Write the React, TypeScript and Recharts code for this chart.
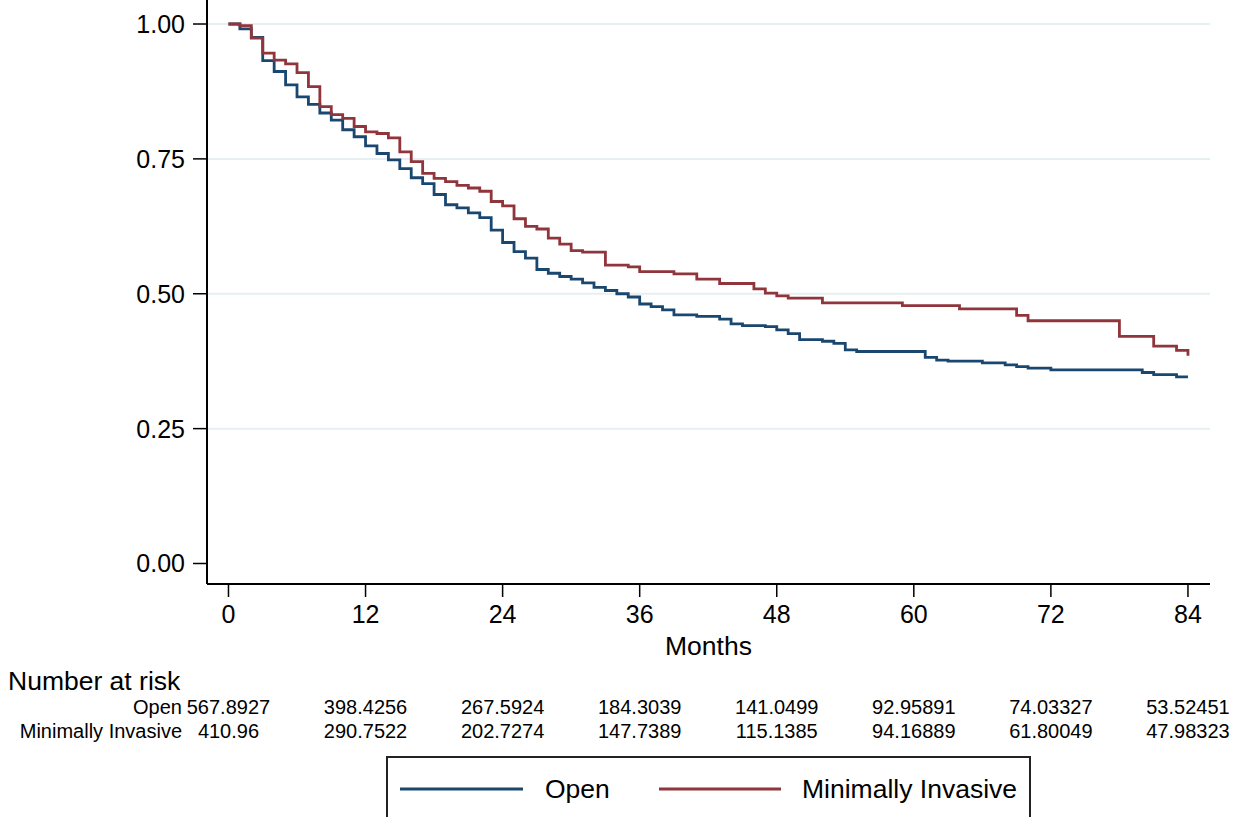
import React from 'react';
import { LineChart, Line, XAxis, YAxis, CartesianGrid } from 'recharts';

// Kaplan-Meier estimates read per month (value holds from month m to m+1)
const months = Array.from({ length: 85 }, (_, i) => i);

const openSurv = [
  1.0, 0.991, 0.975, 0.932, 0.912, 0.887, 0.865, 0.851, 0.835, 0.822,
  0.804, 0.791, 0.774, 0.76, 0.748, 0.732, 0.715, 0.704, 0.684, 0.665,
  0.659, 0.65, 0.641, 0.618, 0.595, 0.578, 0.566, 0.545, 0.538, 0.532,
  0.527, 0.52, 0.512, 0.506, 0.5, 0.494, 0.481, 0.476, 0.47, 0.461,
  0.461, 0.458, 0.458, 0.453, 0.444, 0.441, 0.441, 0.439, 0.433, 0.426,
  0.415, 0.415, 0.412, 0.408, 0.396, 0.393, 0.393, 0.393, 0.393, 0.393,
  0.393, 0.382, 0.377, 0.375, 0.375, 0.375, 0.372, 0.372, 0.368, 0.365,
  0.362, 0.362, 0.359, 0.359, 0.359, 0.359, 0.359, 0.359, 0.359, 0.359,
  0.354, 0.35, 0.35, 0.346, 0.346,
];

const miSurv = [
  1.0, 0.997, 0.974, 0.946, 0.933, 0.926, 0.91, 0.884, 0.847, 0.832,
  0.825, 0.81, 0.8, 0.797, 0.789, 0.763, 0.745, 0.723, 0.714, 0.708,
  0.701, 0.696, 0.69, 0.671, 0.663, 0.639, 0.625, 0.62, 0.603, 0.592,
  0.58, 0.577, 0.577, 0.553, 0.553, 0.55, 0.541, 0.541, 0.541, 0.537,
  0.537, 0.527, 0.527, 0.519, 0.519, 0.519, 0.509, 0.501, 0.496, 0.492,
  0.492, 0.492, 0.483, 0.483, 0.483, 0.483, 0.483, 0.483, 0.483, 0.478,
  0.478, 0.478, 0.478, 0.478, 0.472, 0.472, 0.472, 0.472, 0.472, 0.46,
  0.45, 0.45, 0.45, 0.45, 0.45, 0.45, 0.45, 0.45, 0.421, 0.421,
  0.421, 0.403, 0.403, 0.395, 0.385,
];

const monthTicks = [0, 12, 24, 36, 48, 60, 72, 84];
const survTicks = [0, 0.25, 0.5, 0.75, 1];
const gridValues = [0.25, 0.5, 0.75, 1];

const openAtRisk = ['567.8927', '398.4256', '267.5924', '184.3039', '141.0499', '92.95891', '74.03327', '53.52451'];
const miAtRisk = ['410.96', '290.7522', '202.7274', '147.7389', '115.1385', '94.16889', '61.80049', '47.98323'];

const OPEN = '#1a476f';
const MI = '#90353b';
const FONT = '"Liberation Sans", Arial, Helvetica, sans-serif';

const data = months.map((m, i) => ({ month: m, open: openSurv[i], mi: miSurv[i] }));

// x tick + number-at-risk rows hang under each tick
const MonthTick = (props: any) => {
  const { x, y, payload } = props;
  const idx = monthTicks.indexOf(payload.value);
  return (
    <g>
      <text x={x} y={y} dy="0.71em" textAnchor="middle" fontSize={25} fill="#000">
        {payload.value}
      </text>
      <text x={x} y={y + 109} textAnchor="middle" fontSize={20} fill="#000">
        {openAtRisk[idx]}
      </text>
      <text x={x} y={y + 133} textAnchor="middle" fontSize={20} fill="#000">
        {miAtRisk[idx]}
      </text>
      {idx === 0 && (
        <>
          <text x={8} y={y + 85} fontSize={26.5} fill="#000">Number at risk</text>
          <text x={182} y={y + 109} textAnchor="end" fontSize={20} fill="#000">Open</text>
          <text x={182} y={y + 133} textAnchor="end" fontSize={20} fill="#000">Minimally Invasive</text>
        </>
      )}
    </g>
  );
};

const App = () => {
  return (
    <div
      style={{
        position: 'absolute',
        left: 0,
        top: 0,
        width: 1249,
        height: 817,
        overflow: 'hidden',
        background: '#fff',
        fontFamily: FONT,
      }}
    >
      <LineChart
        width={1249}
        height={817}
        data={data}
        margin={{ top: 0, right: 39, left: 0, bottom: 0 }}
        style={{ fontFamily: FONT }}
      >
        <CartesianGrid
          vertical={false}
          horizontalValues={gridValues}
          stroke="#e6eff2"
          strokeWidth={2}
        />
        <XAxis
          dataKey="month"
          type="number"
          domain={[-1.88, 85.93]}
          allowDataOverflow
          ticks={monthTicks}
          interval={0}
          height={233}
          tickSize={13}
          tickMargin={8}
          tick={<MonthTick />}
          axisLine={{ stroke: '#000', strokeWidth: 2 }}
          tickLine={{ stroke: '#000', strokeWidth: 1.5 }}
          label={{ value: 'Months', position: 'insideTop', offset: 52, fontSize: 26.5, fill: '#000' }}
        />
        <YAxis
          type="number"
          domain={[-0.038, 1.0445]}
          allowDataOverflow
          ticks={survTicks}
          interval={0}
          width={207}
          tickSize={14}
          tickMargin={8}
          tickFormatter={(v: number) => v.toFixed(2)}
          tick={{ fontSize: 25, fill: '#000' }}
          axisLine={{ stroke: '#000', strokeWidth: 2 }}
          tickLine={{ stroke: '#000', strokeWidth: 1.5 }}
        />
        <Line
          type="stepAfter"
          dataKey="open"
          stroke={OPEN}
          strokeWidth={2.8}
          dot={false}
          activeDot={false}
          isAnimationActive={false}
        />
        <Line
          type="stepAfter"
          dataKey="mi"
          stroke={MI}
          strokeWidth={2.8}
          dot={false}
          activeDot={false}
          isAnimationActive={false}
        />
      </LineChart>

      {/* legend box, bottom edge runs past the picture */}
      <div
        style={{
          position: 'absolute',
          left: 386,
          top: 756,
          width: 641,
          height: 80,
          border: '2px solid #222',
        }}
      >
        <svg width={641} height={80} style={{ position: 'absolute', left: 0, top: 0 }}>
          <line x1={12} x2={135} y1={31} y2={31} stroke={OPEN} strokeWidth={3} />
          <text x={157} y={40} fontSize={26.5} fill="#000" fontFamily={FONT}>Open</text>
          <line x1={271} x2={393} y1={31} y2={31} stroke={MI} strokeWidth={3} />
          <text x={414} y={40} fontSize={26.5} fill="#000" fontFamily={FONT}>Minimally Invasive</text>
        </svg>
      </div>
    </div>
  );
};

export default App;
